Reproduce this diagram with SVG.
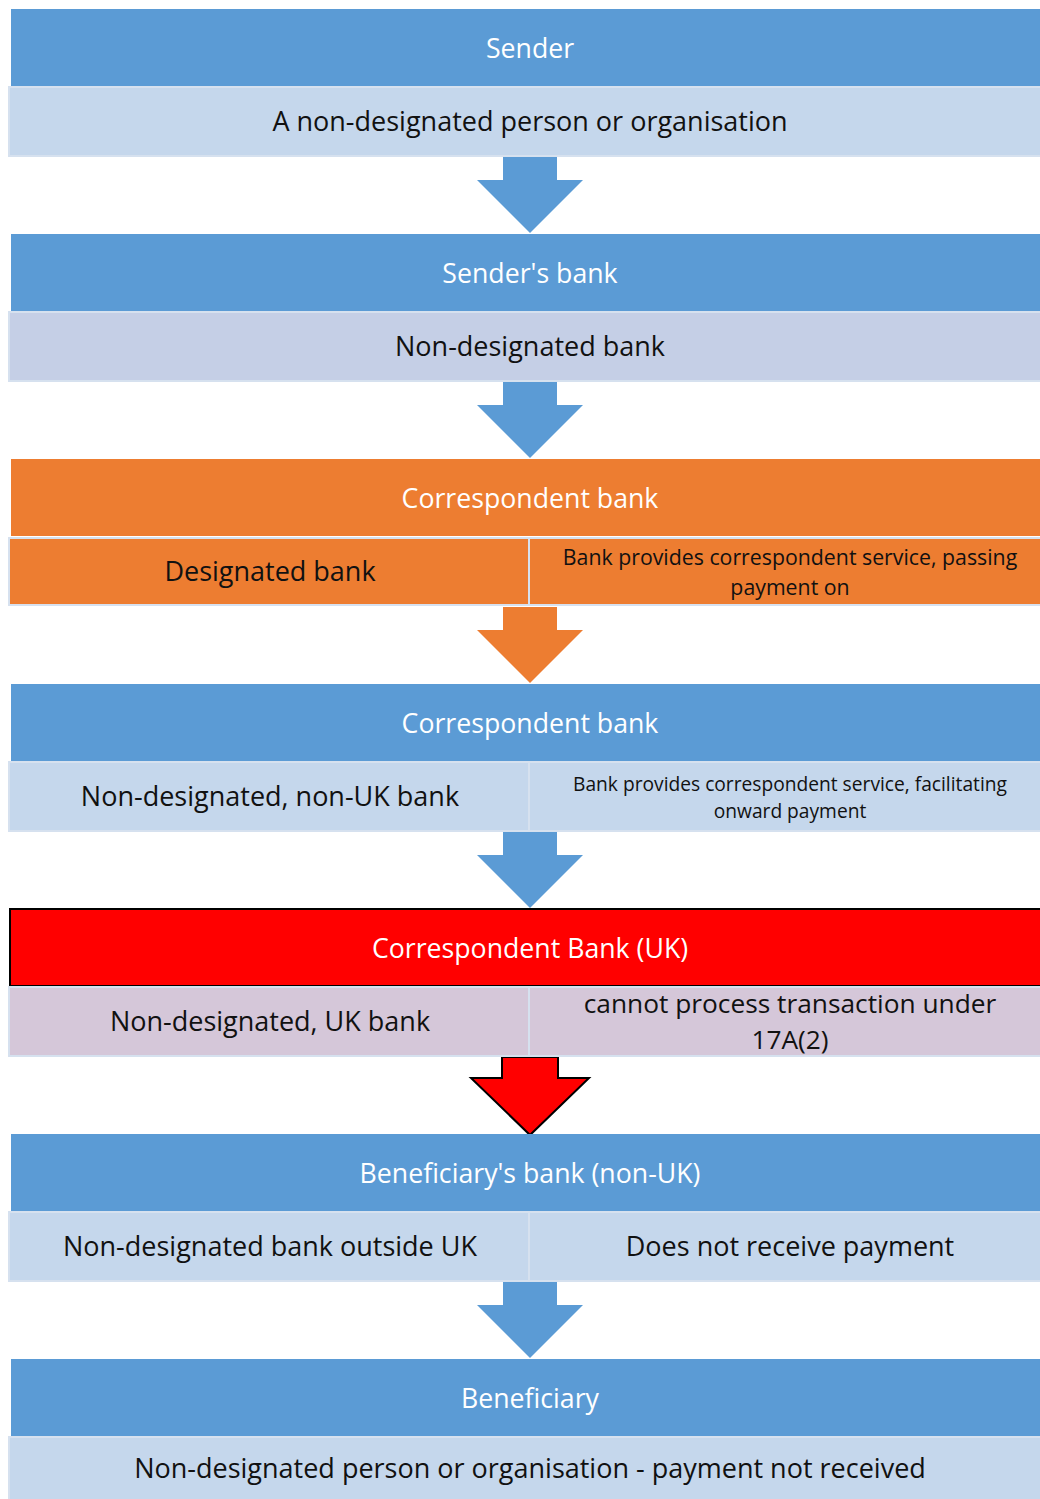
<svg xmlns="http://www.w3.org/2000/svg" width="1040" height="1499" viewBox="0 0 1040 1499">
<style>
.hdr{fill:#5B9BD5}
.sub{fill:#C5D7EC;stroke:#D6E1EF;stroke-width:2}
.ht{font-family:"Open Sans","Noto Sans",sans-serif;font-size:26.7px;fill:#fff;text-anchor:middle;dominant-baseline:central}
.st{font-family:"Open Sans","Noto Sans",sans-serif;font-size:27px;fill:#111;text-anchor:middle;dominant-baseline:central}
.st2{font-family:"Open Sans","Noto Sans",sans-serif;font-size:26.3px;fill:#111;text-anchor:middle}
.sm{font-family:"Open Sans","Noto Sans",sans-serif;font-size:21.3px;fill:#111;text-anchor:middle}
.sm2{font-family:"Open Sans","Noto Sans",sans-serif;font-size:19.2px;fill:#111;text-anchor:middle}
.arr{fill:#5B9BD5}
</style>
<rect width="1040" height="1499" fill="#fff"/>
<g id="connectors">
<path class="arr" d="M503 157H557V180H583L530 233L477 180H503Z"/>
<path class="arr" d="M503 382H557V405H583L530 458L477 405H503Z"/>
<path fill="#ED7D31" d="M503 607H557V630H583L530 683L477 630H503Z"/>
<path class="arr" d="M503 832H557V855H583L530 908L477 855H503Z"/>
<path fill="#FF0000" stroke="#000" stroke-width="2" d="M502 1057H558V1078H589L530 1135L471 1078H502Z"/>
<path class="arr" d="M503 1282H557V1305H583L530 1358L477 1305H503Z"/>
</g>
<g id="sender">
<rect class="hdr" x="11" y="9" width="1029" height="77"/>
<text class="ht" x="530" y="47">Sender</text>
<rect class="sub" x="9" y="87" width="1032" height="69"/>
<text class="st" x="530" y="120">A non-designated person or organisation</text>
</g>
<g id="senders-bank">
<rect class="hdr" x="11" y="234" width="1029" height="77"/>
<text class="ht" x="530" y="272">Sender's bank</text>
<rect class="sub" x="9" y="312" width="1032" height="69" style="fill:#C5CFE6"/>
<text class="st" x="530" y="345">Non-designated bank</text>
</g>
<g id="correspondent-designated">
<rect x="11" y="459" width="1029" height="77" fill="#ED7D31"/>
<text class="ht" x="530" y="497">Correspondent bank</text>
<rect class="sub" x="9" y="538" width="520" height="67" style="fill:#ED7D31"/>
<rect class="sub" x="529" y="538" width="512" height="67" style="fill:#ED7D31"/>
<text class="st" x="270" y="570">Designated bank</text>
<text class="sm" x="790" y="565">Bank provides correspondent service, passing<tspan x="790" dy="29.5">payment on</tspan></text>
</g>
<g id="correspondent-nonuk">
<rect class="hdr" x="11" y="684" width="1029" height="77"/>
<text class="ht" x="530" y="722">Correspondent bank</text>
<rect class="sub" x="9" y="762" width="520" height="69"/>
<rect class="sub" x="529" y="762" width="512" height="69"/>
<text class="st" x="270" y="795">Non-designated, non-UK bank</text>
<text class="sm2" x="790" y="791">Bank provides correspondent service, facilitating<tspan x="790" dy="26.5">onward payment</tspan></text>
</g>
<g id="correspondent-uk">
<rect x="10" y="909" width="1031" height="77" fill="#FF0000" stroke="#000" stroke-width="2"/>
<text class="ht" x="530" y="947">Correspondent Bank (UK)</text>
<rect class="sub" x="9" y="987" width="520" height="69" style="fill:#D5C7D9"/>
<rect class="sub" x="529" y="987" width="512" height="69" style="fill:#D5C7D9"/>
<text class="st" x="270" y="1020">Non-designated, UK bank</text>
<text class="st2" x="790" y="1013">cannot process transaction under<tspan x="790" dy="36">17A(2)</tspan></text>
</g>
<g id="beneficiarys-bank">
<rect class="hdr" x="11" y="1134" width="1029" height="77"/>
<text class="ht" x="530" y="1172">Beneficiary's bank (non-UK)</text>
<rect class="sub" x="9" y="1212" width="520" height="69"/>
<rect class="sub" x="529" y="1212" width="512" height="69"/>
<text class="st" x="270" y="1245">Non-designated bank outside UK</text>
<text class="st" x="790" y="1245">Does not receive payment</text>
</g>
<g id="beneficiary">
<rect class="hdr" x="11" y="1359" width="1029" height="77"/>
<text class="ht" x="530" y="1397">Beneficiary</text>
<rect class="sub" x="9" y="1437" width="1032" height="63"/>
<text class="st" x="530" y="1467">Non-designated person or organisation - payment not received</text>
</g>
</svg>
